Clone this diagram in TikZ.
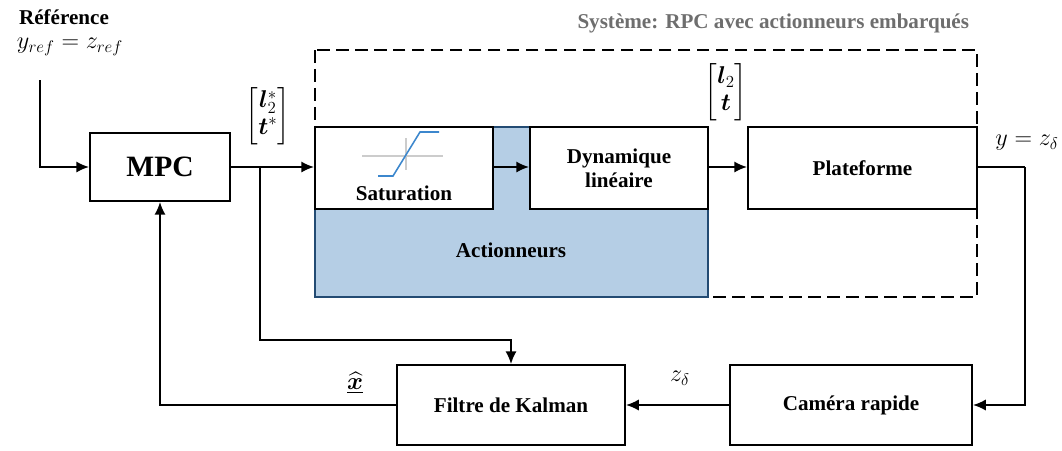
\documentclass[tikz,border=0pt]{standalone}
\usepackage{amsmath,amssymb,bm}
\usepackage{fontspec}
\setmainfont{Liberation Serif}
\usetikzlibrary{arrows.meta,positioning}
\definecolor{actfill}{RGB}{181,206,229}
\definecolor{actdraw}{RGB}{35,75,115}
\definecolor{satblue}{RGB}{60,135,205}
\definecolor{titlegray}{RGB}{110,110,110}

\begin{document}
\begin{tikzpicture}[x=0.025cm,y=-0.025cm,font=\fontsize{15}{17}\selectfont\bfseries,
  blk/.style={draw,line width=1.3pt,fill=white,align=center,inner sep=2pt},
  arr/.style={-{Latex[length=3.2mm,width=2.8mm]},line width=1.3pt},
  ln/.style={line width=1.3pt},
  lab/.style={font=\fontsize{17}{19}\selectfont,inner sep=1pt}]
 \useasboundingbox (0,0) rectangle (1062,450);
 % ---- input ----
 \node (refname) at (64,17) {Référence};
 \node[lab] (ref) at (70,47) {$y_{ref}=z_{ref}$};
 \coordinate (refin) at (40,80);
 % ---- system frame ----
 \draw[ln,dashed,dash pattern=on 9pt off 4.5pt] (315,50) rectangle (977,297);
 \node[text=titlegray,anchor=east] (systitle) at (974,23) {Système: RPC avec actionneurs embarqués};
 \node[draw=actdraw,line width=1.3pt,fill=actfill,minimum width=9.825cm,minimum height=4.25cm] (act) at (511.5,212) {};
 \node (actlbl) at (511,250) {Actionneurs};
 % ---- blocks ----
 \node[blk,font=\fontsize{21}{23}\selectfont\bfseries,minimum width=3.5cm,minimum height=1.7cm] (mpc) at (160,167) {MPC};
 \node[blk,minimum width=4.45cm,minimum height=2.05cm] (sat) at (404,168) {};
 \node (satlbl) at (404,193) {Saturation};
 \node[blk,minimum width=4.45cm,minimum height=2.05cm] (dyn) at (619,168) {Dynamique\\linéaire};
 \node[blk,minimum width=5.725cm,minimum height=2.05cm] (plat) at (862.5,168) {Plateforme};
 \node[blk,minimum width=6.05cm,minimum height=2cm] (cam) at (851,405) {Caméra rapide};
 \node[blk,minimum width=5.7cm,minimum height=2cm] (kal) at (511,405) {Filtre de Kalman};
 % ---- saturation icon ----
 \draw[black!20,line width=0.9pt] (362,156) -- (443,156) (406,138) -- (406,170);
 \draw[satblue,line width=1.1pt] (378,176) -- (393,176) -- (420,132) -- (439,132);
 % ---- signals ----
 \coordinate (br) at (260,167);
 \coordinate (yout) at (1025,167);
 \draw[arr] (refin) |- (mpc.west);
 \draw[arr] (mpc.east) -- (sat.west |- mpc.east);
 \draw[arr] (sat.east |- mpc.east) -- (dyn.west |- mpc.east);
 \draw[arr] (dyn.east |- mpc.east) -- (plat.west |- mpc.east);
 \draw[ln] (plat.east |- yout) -- (yout);
 \draw[arr] (yout) |- (cam.east);
 \draw[arr] (cam.west) -- (kal.east);
 \draw[arr] (kal.west) -| (mpc.south);
 \draw[arr] (br) |- (kal.north |- 0,340) -- (kal.north);
 % ---- labels ----
 \node[lab] (ustar) at (268,116) {$\begin{bmatrix}\bm{l}_2^{*}\\ \bm{t}^{*}\end{bmatrix}$};
 \node[lab] (u) at (726,92) {$\begin{bmatrix}\bm{l}_2\\ \bm{t}\end{bmatrix}$};
 \node[lab] (ylab) at (1027,143) {$y=z_\delta$};
 \node[lab] (zlab) at (680,378) {$z_\delta$};
 \node[lab] (xhat) at (355,383) {$\underline{\widehat{\bm{x}}}$};
\end{tikzpicture}
\end{document}
